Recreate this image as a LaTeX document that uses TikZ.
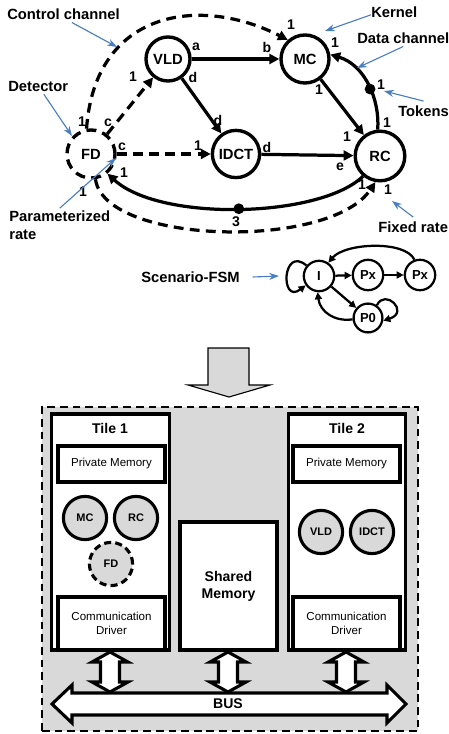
\documentclass[tikz,border=0pt]{standalone}
\usepackage{fontspec}
\setmainfont{Liberation Sans}
\usetikzlibrary{positioning}
\usetikzlibrary{arrows.meta}
\definecolor{notecol}{RGB}{74,126,193}
\definecolor{platgray}{RGB}{217,217,217}

\begin{document}
\begin{tikzpicture}[x=0.025cm, y=0.025cm,
  kernel/.style={circle, draw, line width=2.4pt, minimum size=1.2cm, inner sep=0pt, font=\bfseries\fontsize{10.5}{12}\selectfont},
  detector/.style={kernel, dash pattern=on 7pt off 4.5pt},
  chan/.style={line width=2.3pt, -{Triangle[length=7pt,width=7pt]}},
  ctrl/.style={chan, dash pattern=on 7pt off 4.5pt},
  rate/.style={font=\bfseries\fontsize{10}{11}\selectfont, inner sep=0pt},
  token/.style={circle, fill, inner sep=0pt, minimum size=0.27cm},
  note/.style={font=\bfseries\fontsize{10.5}{12.8}\selectfont, inner sep=0pt, align=left},
  notearrow/.style={notecol, line width=0.8pt, -{Stealth[length=7pt,width=5pt]}},
  state/.style={circle, draw, line width=1.6pt, minimum size=0.76cm, inner sep=0pt, font=\bfseries\fontsize{9.3}{10}\selectfont},
  trans/.style={line width=1.6pt, -{Triangle[length=5pt,width=5pt]}},
  tile/.style={draw, fill=white, line width=2.2pt, minimum width=2.95cm, minimum height=5.9cm, inner sep=0pt},
  membox/.style={draw, fill=white, line width=2.2pt, minimum width=2.675cm, inner sep=0pt, align=center, font=\fontsize{8.2}{10}\selectfont},
  task/.style={circle, draw, fill=platgray, line width=2.2pt, minimum size=1.08cm, inner sep=0pt, font=\bfseries\fontsize{7.8}{9}\selectfont},
  blockarrow/.style={draw, fill=white, line width=2.2pt, line join=miter}
]

\useasboundingbox (0,0) rectangle (448,-734);

% the dataflow graph
\begin{scope}
{
\node[detector] (fd) at (91,-154) {FD};
\node[kernel, minimum size=1.1cm] (vld) at (168,-59) {VLD};
\node[kernel] (mc) at (305,-59) {MC};
\node[kernel, minimum size=1.18cm] (idct) at (236,-154) {IDCT};
\node[kernel, minimum size=1.24cm] (rc) at (380,-156) {RC};


\draw[chan] (vld) -- (mc);
\draw[chan] (vld) -- (idct);
\draw[chan] (idct) -- (rc);
\draw[chan] (mc) -- (rc);

\draw[chan] (rc.95) .. controls (380,-100) and (365,-65) .. (mc.10) node[token, pos=0.45] (tokmc) {};
\draw[chan] (rc.230) .. controls (320,-218) and (160,-222) .. (fd.310) node[token, pos=0.5] (tokfd) {};


\draw[ctrl] (fd) -- (vld);
\draw[ctrl] (fd) -- (idct);
\draw[ctrl] (fd.100) .. controls (95,-10) and (200,5) .. (mc.132);
\draw[ctrl] (fd.280) .. controls (105,-245) and (330,-250) .. (rc.260);


% labellings
{
\node[rate] (r1) at (82,-122) {1};
\node[rate] (r2) at (108,-123) {c};
\node[rate] (r3) at (133,-77) {1};
\node[rate] (r4) at (122,-147) {c};
\node[rate] (r5) at (198,-146) {1};
\node[rate] (r6) at (124,-173) {1};
\node[rate] (r7) at (83,-192) {1};
\node[rate] (r8) at (196,-47) {a};
\node[rate] (r9) at (193,-77) {d};
\node[rate] (r10) at (218,-120) {d};
\node[rate] (r11) at (267,-47) {b};
\node[rate] (r12) at (291,-25) {1};
\node[rate] (r13) at (335,-43) {1};
\node[rate] (r14) at (319,-90) {1};
\node[rate] (r15) at (381,-85) {1};
\node[rate] (r16) at (387,-123) {1};
\node[rate] (r17) at (347,-137) {1};
\node[rate] (r18) at (267,-147) {d};
\node[rate] (r19) at (340,-167) {e};
\node[rate] (r20) at (362,-185) {1};
\node[rate] (r21) at (388,-190) {1};
\node[rate] (r22) at (236,-222) {3};
}

% notes
\node[note, anchor=west] (ctrlnote) at (7,-14) {Control channel};
\coordinate (ctrlpt) at (117,-47);
\draw[notearrow] ([xshift=6pt, yshift=-2pt]ctrlnote.south) -- (ctrlpt);

\node[note, anchor=west] (kernnote) at (371,-12) {Kernel};
\coordinate (kernpt) at (325,-31);
\draw[notearrow] ([yshift=-2pt]kernnote.west) -- (kernpt);

\node[note, anchor=west] (datanote) at (357,-38) {Data channel};
\coordinate (datapt) at (357,-68);
\draw[notearrow] ([yshift=-2pt]datanote.south) -- (datapt);

\node[note, anchor=west] (toknote) at (398,-111) {Tokens};
\coordinate (tokpt) at (384,-91);
\draw[notearrow] ([yshift=3pt]toknote.north) -- (tokpt);

\node[note, anchor=west] (detnote) at (8,-86) {Detector};
\coordinate (detpt) at (72,-136);
\draw[notearrow] ([xshift=4pt, yshift=-2pt]detnote.south) -- (detpt);

\node[note, anchor=north west] (parnote) at (9,-211) {Parameterized\\rate};
\coordinate (parpt) at (116,-158);
\draw[notearrow] ([yshift=2pt]parnote.north) -- (parpt);

\node[note, anchor=west] (fixnote) at (378,-227) {Fixed rate};
\coordinate (fixpt) at (392,-201);
\draw[notearrow] ([yshift=3pt]fixnote.north) -- (fixpt);
}
\end{scope}

% scenario FSM
\begin{scope}
{
\node[note, anchor=east] (fsmnote) at (240,-277) {Scenario-FSM};
\coordinate (fsmpt) at (279,-276);
\draw[notearrow] ([xshift=9pt]fsmnote.east) -- (fsmpt);

\node[state] (fi) at (319,-276) {I};
\node[state] (fpx1) at (368,-275) {Px};
\node[state] (fpx2) at (420,-275) {Px};
\node[state, minimum size=0.72cm] (fp0) at (368,-318) {P0};

\draw[trans] (fi.140) .. controls (282,-245) and (280,-305) .. (fi.215);
\draw[trans] (fi) -- (fpx1);
\draw[trans] (fpx1) -- (fpx2);
\draw[trans] (fpx2.110) .. controls (405,-240) and (345,-243) .. (fi.55);
\draw[trans] (fi) -- (fp0);
\draw[trans] (fp0.185) .. controls (335,-322) and (320,-312) .. (fi.265);
\draw[trans] (fp0.55) .. controls (385,-288) and (410,-312) .. (fp0.-10);
}
\end{scope}

% mapping arrow
\draw[fill=platgray, line width=0.8pt] (208,-348) -- (249,-348) -- (249,-385) -- (270,-385) -- (229,-397) -- (188,-385) -- (208,-385) -- cycle;

% platform
\begin{scope}
{
\node[draw, fill=platgray, line width=2pt, dash pattern=on 5.5pt off 3.5pt, minimum width=9.4cm, minimum height=8.1cm] (platform) at (230,-569) {};

\node[tile] (tileA) at (110.5,-532) {};
\node[tile, minimum width=2.925cm] (tileB) at (347,-532) {};
\node[font=\bfseries\fontsize{10}{11}\selectfont] (tileAname) at (110,-428) {Tile 1};
\node[font=\bfseries\fontsize{10}{11}\selectfont] (tileBname) at (347,-428) {Tile 2};

\node[membox, minimum height=0.9cm] (pmemA) at (111.5,-464) {Private Memory};
\node[membox, minimum height=0.9cm] (pmemB) at (346.5,-464) {Private Memory};
\node[membox, minimum height=1.325cm] (cdrvA) at (111.5,-623.5) {Communication\\Driver};
\node[membox, minimum height=1.325cm] (cdrvB) at (346.5,-623.5) {Communication\\Driver};

\node[draw, fill=white, line width=2.2pt, minimum width=2.425cm, minimum height=3.2cm, inner sep=0pt, align=center, font=\bfseries\fontsize{10}{12}\selectfont] (shmem) at (228.5,-586) {Shared\\Memory};

\node[task] (tmc) at (85,-518) {MC};
\node[task] (trc) at (136,-518) {RC};
\node[task, dash pattern=on 5pt off 3pt] (tfd) at (111,-564) {FD};
\node[task] (tvld) at (321,-532) {VLD};
\node[task] (tidct) at (372,-532) {IDCT};

% links to the bus
\foreach \cx in {110,228,346}
{
\draw[blockarrow] (\cx,-652) -- (\cx+18,-662) -- (\cx+9.5,-662) -- (\cx+9.5,-682) -- (\cx+18,-682) -- (\cx,-692) -- (\cx-18,-682) -- (\cx-9.5,-682) -- (\cx-9.5,-662) -- (\cx-18,-662) -- cycle;
}

\draw[blockarrow] (52,-704) -- (72,-685) -- (72,-693) -- (387,-693) -- (387,-685) -- (406,-704) -- (387,-723) -- (387,-715) -- (72,-715) -- (72,-723) -- cycle;
\node[font=\bfseries\fontsize{10}{11}\selectfont] (bus) at (228,-704) {BUS};
}
\end{scope}

\end{tikzpicture}
\end{document}
